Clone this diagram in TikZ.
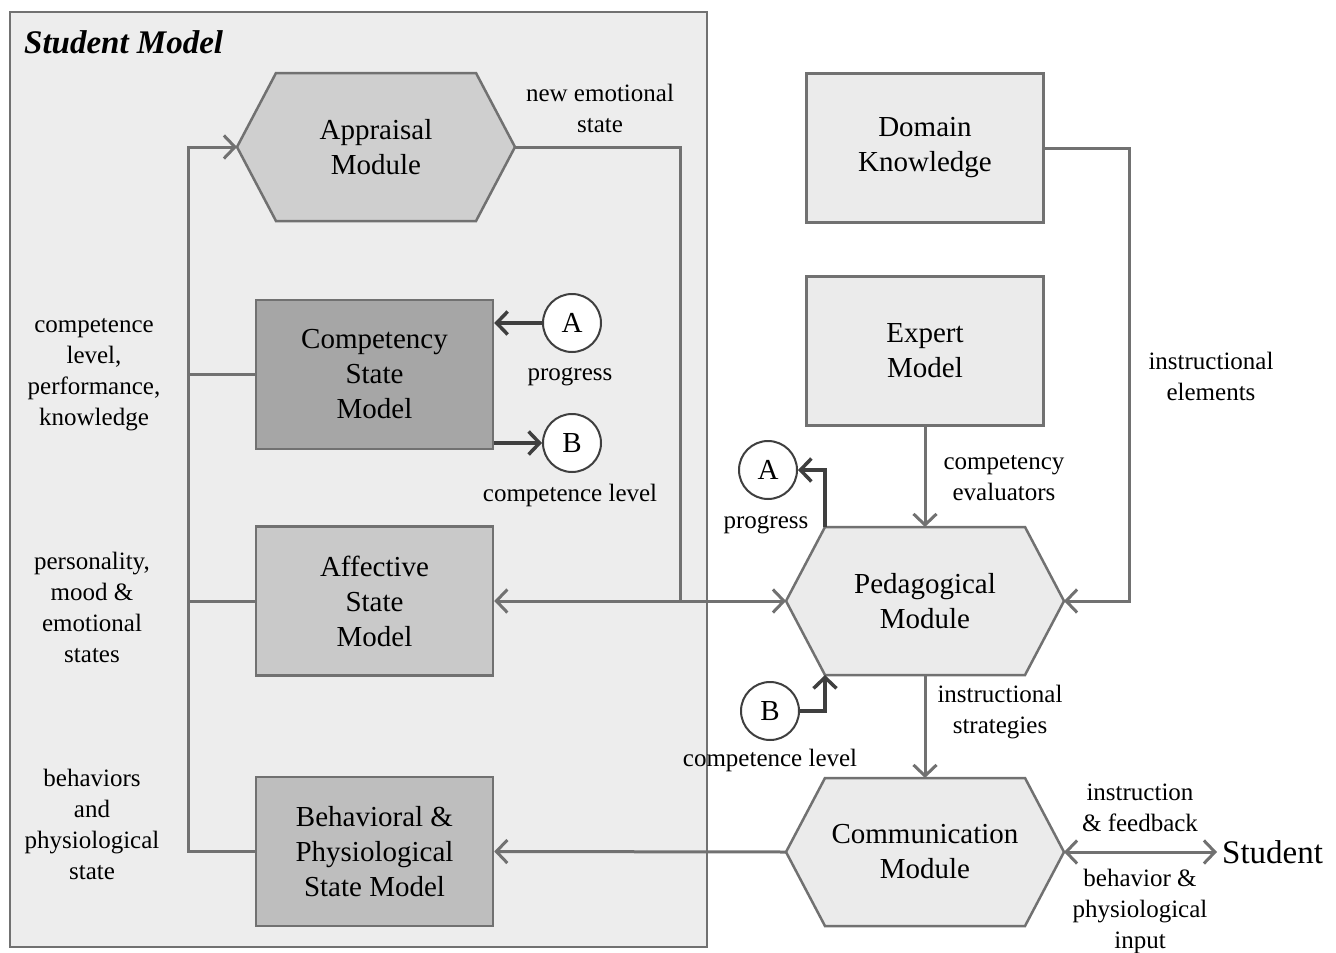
\documentclass[tikz,border=0pt]{standalone}
\usepackage{fontspec}
\setmainfont{Liberation Serif}
\usetikzlibrary{calc,arrows.meta}
\definecolor{lineGray}{HTML}{717171}
\definecolor{darkLine}{HTML}{3f3f3f}
\definecolor{panelGray}{HTML}{ededed}
\definecolor{lightBox}{HTML}{ebebeb}
\definecolor{apprFill}{HTML}{cfcfcf}
\definecolor{compFill}{HTML}{a6a6a6}
\definecolor{affFill}{HTML}{c9c9c9}
\definecolor{behFill}{HTML}{bebebe}
\tikzset{
  barb/.tip={Straight Barb[length=11pt,width=23pt]},
  conn/.style={lineGray,line width=3pt,-barb},
  plain/.style={lineGray,line width=3pt},
  darkconn/.style={darkLine,line width=3.5pt,-barb},
  boxline/.style={draw=lineGray,line width=2.5pt},
  modbox/.style={boxline,minimum width=237pt,minimum height=149pt,align=center,font=\fontsize{29}{35}\selectfont},
  modtext/.style={align=center,font=\fontsize{29}{35}\selectfont},
  lbl/.style={align=center,font=\fontsize{25}{31}\selectfont,inner sep=0pt},
  circ/.style={circle,draw=darkLine,line width=2pt,fill=white,minimum size=58pt,inner sep=0pt,font=\fontsize{29}{35}\selectfont}
}
\newcommand{\hexmod}[4]{%
  \coordinate (#1) at (#2);
  \draw[boxline,fill=#3] ($(#1)+(-100,-74)$) coordinate (#1-nw) -- ($(#1)+(100,-74)$) -- ($(#1)+(139,0)$) coordinate (#1-e)
    -- ($(#1)+(100,74)$) -- ($(#1)+(-100,74)$) coordinate (#1-sw) -- ($(#1)+(-139,0)$) coordinate (#1-w) -- cycle;
  \coordinate (#1-n) at ($(#1)+(0,-74)$);
  \coordinate (#1-s) at ($(#1)+(0,74)$);
  \node[modtext] (#1-t) at (#1) {#4};}
\begin{document}
\begin{tikzpicture}[x=1pt,y=-1pt]
\useasboundingbox (0,0) rectangle (1336,953);
\node[boxline,fill=panelGray,minimum width=697pt,minimum height=935pt] (smodel) at (358.5,479.5) {};
\node[anchor=west,inner sep=0pt,font=\fontsize{33}{40}\selectfont\bfseries\itshape] (stitle) at (24,42) {Student Model};
\hexmod{app}{376,147}{apprFill}{Appraisal\\Module}
\node[modbox,fill=compFill] (comp) at (374.5,374.5) {Competency\\State\\Model};
\node[modbox,fill=affFill] (aff) at (374.5,601) {Affective\\State\\Model};
\node[modbox,fill=behFill] (beh) at (374.5,851.5) {Behavioral \&\\Physiological\\State Model};
\node[modbox,fill=lightBox] (dom) at (925,148) {Domain\\Knowledge};
\node[modbox,fill=lightBox] (exp) at (925,351) {Expert\\Model};
\hexmod{ped}{925,601}{lightBox}{Pedagogical\\Module}
\hexmod{comm}{925,852}{lightBox}{Communication\\Module}
\node[circ] (cA) at (572,323) {A};
\node[circ] (cB) at (572,443) {B};
\node[circ] (pA) at (768,470) {A};
\node[circ] (pB) at (770,711) {B};
\node[anchor=west,inner sep=5pt,font=\fontsize{33}{40}\selectfont] (stu) at (1217,852) {Student};
\coordinate (join) at (680,601);
\draw[conn](beh.west)--++(-66,0)|-(app-w);
\draw[plain](comp.west)--++(-66,0);
\draw[plain](aff.west)--++(-66,0);
\draw[plain](app-e)-|(join);
\draw[conn,barb-barb](aff.east)--(ped-w);
\draw[conn](dom.east)--++(85,0)|-(ped-e);
\draw[conn](exp.south)--(ped-n);
\draw[conn](ped-s)--(comm-n);
\draw[conn](comm-w)--(beh.east);
\draw[conn,barb-barb](comm-e)--(stu.west);
\draw[darkconn](cA.west)--(cA.west-|comp.east);
\draw[darkconn](cB.west-|comp.east)--(cB.west);
\draw[darkconn](ped-nw)|-(pA.east);
\draw[darkconn](pB.east)-|(ped-sw);
\node[lbl] (lNew) at (600,108) {new emotional\\state};
\node[lbl] (lComp) at (94,375) {competence\\level,\\performance,\\knowledge};
\node[lbl] (lPers) at (92,607) {personality,\\mood \&\\emotional\\states};
\node[lbl] (lBeh) at (92,824) {behaviors\\and\\physiological\\state};
\node[lbl] (lProgA) at (570,377) {progress};
\node[lbl] (lLevB) at (570,495) {competence level};
\node[lbl] (lEval) at (1004,478) {competency\\evaluators};
\node[lbl] (lElem) at (1211,376) {instructional\\elements};
\node[lbl] (lProgP) at (766,525) {progress};
\node[lbl] (lLevP) at (770,760) {competence level};
\node[lbl] (lStrat) at (1000,712) {instructional\\strategies};
\node[lbl] (lInstr) at (1140,808) {instruction\\\& feedback};
\node[lbl] (lInput) at (1140,911) {behavior \&\\physiological\\input};
\end{tikzpicture}
\end{document}
